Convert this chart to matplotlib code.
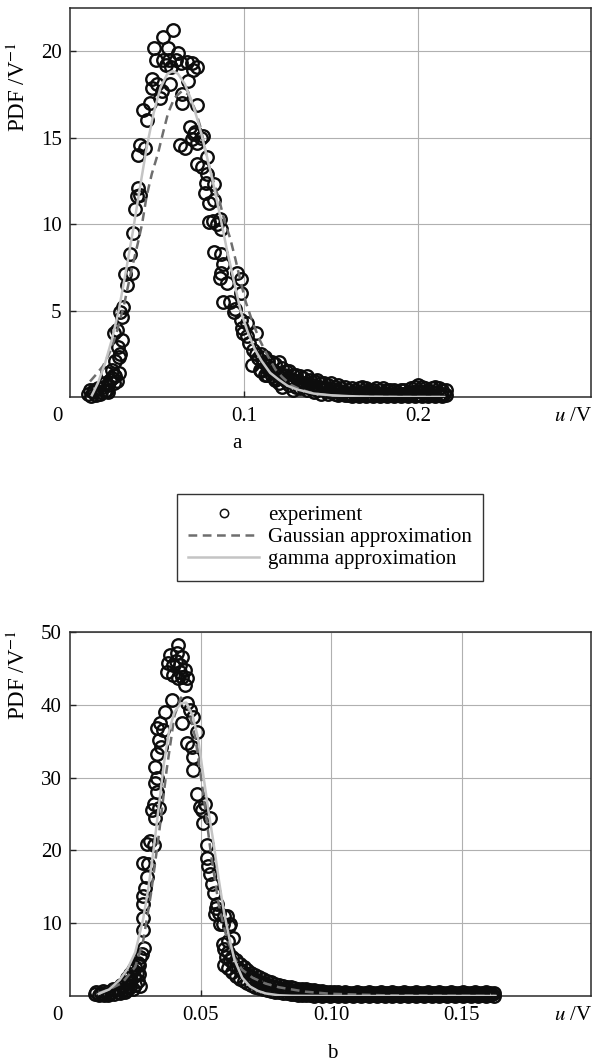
import matplotlib
matplotlib.use("Agg")
import matplotlib.pyplot as plt

plt.rcParams['font.family'] = ['Liberation Serif', 'DejaVu Serif']
plt.rcParams['mathtext.fontset'] = 'stix'
plt.rcParams['font.size'] = 15

# ---- panel a: experiment points ----
a_u = [0.0105, 0.012, 0.013, 0.015, 0.017, 0.019, 0.020, 0.021, 0.022, 0.023, 0.025, 0.024, 0.026, 0.028,
       0.021, 0.024, 0.026, 0.028, 0.0287, 0.0277, 0.030, 0.025, 0.027, 0.029, 0.030, 0.0305, 0.033, 0.0316,
       0.0356, 0.0345, 0.036, 0.0373, 0.0385, 0.040, 0.039, 0.040, 0.039, 0.043, 0.042, 0.044, 0.046, 0.047,
       0.050, 0.047, 0.053, 0.052, 0.0575, 0.0483, 0.0534, 0.0592, 0.0565, 0.0494, 0.0533, 0.0571, 0.061, 0.055,
       0.058, 0.0622, 0.064, 0.067, 0.070, 0.073, 0.0707, 0.068, 0.0644, 0.0644, 0.073, 0.063, 0.066, 0.069,
       0.072, 0.075, 0.070, 0.073, 0.0766, 0.071, 0.0787, 0.073, 0.0758, 0.079, 0.083, 0.078, 0.0776, 0.080,
       0.083, 0.086, 0.0845, 0.087, 0.082, 0.080, 0.083, 0.087, 0.088, 0.087, 0.086, 0.090, 0.088, 0.092,
       0.094, 0.095, 0.096, 0.098, 0.098, 0.098, 0.099, 0.102, 0.0995, 0.1015, 0.107, 0.103, 0.105, 0.107,
       0.1045, 0.108, 0.109, 0.113, 0.117, 0.122, 0.128,
       0.0115, 0.014, 0.016, 0.018, 0.020, 0.022, 0.025, 0.027]
a_v = [0.2, 0.05, 0.3, 0.1, 0.2, 0.6, 0.35, 0.4, 0.7, 1.0, 0.8, 1.1, 1.2, 1.4,
       1.4, 1.56, 2.1, 2.3, 2.5, 2.9, 3.3, 3.7, 3.9, 4.9, 4.6, 5.2, 6.5, 7.1,
       7.2, 8.3, 9.5, 10.9, 11.6, 11.7, 12.1, 14.6, 14.0, 14.4, 16.6, 16.0, 17.0, 18.4,
       18.1, 17.9, 17.7, 17.3, 18.1, 20.2, 20.8, 21.2, 20.2, 19.5, 19.5, 19.5, 19.5, 19.2,
       19.1, 19.9, 19.3, 19.4, 19.3, 19.1, 18.9, 18.3, 17.5, 17.0, 16.9, 14.6, 14.4, 15.6,
       15.3, 15.0, 14.9, 14.7, 15.1, 15.2, 13.9, 13.5, 13.3, 12.9, 12.3, 12.4, 11.8, 11.2,
       11.4, 10.3, 10.0, 9.7, 10.2, 10.1, 8.4, 8.3, 7.7, 7.2, 6.9, 6.6, 5.5, 5.5,
       4.9, 5.1, 7.2, 6.8, 6.0, 4.45, 4.0, 4.3, 3.7, 3.5, 3.7, 3.1, 2.7, 2.5,
       1.85, 2.25, 1.56, 1.27, 1.1, 0.58, 0.4,
       0.4, 0.4, 0.5, 0.3, 0.8, 0.3, 1.3, 0.9]

a_tail_u = [0.110, 0.112, 0.114, 0.116, 0.118, 0.120, 0.122, 0.124, 0.126, 0.128,
            0.130, 0.132, 0.134, 0.136, 0.138, 0.140, 0.142, 0.144, 0.146, 0.148,
            0.150, 0.152, 0.154, 0.156, 0.158, 0.160, 0.162, 0.164, 0.166, 0.168,
            0.170, 0.172, 0.174, 0.176, 0.178, 0.180, 0.182, 0.184, 0.186, 0.188,
            0.190, 0.192, 0.194, 0.196, 0.198, 0.200, 0.202, 0.204, 0.206, 0.208,
            0.210, 0.212, 0.214, 0.216]
a_tail_hi = [2.5, 2.3, 2.1, 2.0, 1.9, 2.0, 1.7, 1.5, 1.5, 1.3,
             1.3, 1.2, 1.1, 1.2, 1.0, 0.9, 1.0, 0.8, 0.8, 0.7,
             0.8, 0.6, 0.7, 0.5, 0.6, 0.4, 0.5, 0.4, 0.5, 0.6,
             0.5, 0.4, 0.4, 0.5, 0.4, 0.5, 0.4, 0.4, 0.4, 0.3,
             0.4, 0.4, 0.3, 0.5, 0.6, 0.7, 0.6, 0.5, 0.4, 0.5,
             0.6, 0.5, 0.4, 0.4]
a_tail_lo = [1.5, 1.3, 1.6, 1.2, 1.0, 0.8, 1.1, 0.9, 0.7, 0.9,
             0.6, 0.5, 0.6, 0.4, 0.5, 0.3, 0.4, 0.2, 0.4, 0.2,
             0.3, 0.2, 0.1, 0.2, 0.1, 0.1, 0.05, 0.1, 0.05, 0.1,
             0.05, 0.1, 0.05, 0.1, 0.05, 0.1, 0.05, 0.1, 0.05, 0.1,
             0.05, 0.1, 0.05, 0.1, 0.05, 0.1, 0.05, 0.1, 0.05, 0.1,
             0.05, 0.1, 0.05, 0.1]
a_tail2_u = [0.111, 0.113, 0.115, 0.117, 0.119, 0.121, 0.123, 0.125, 0.127, 0.129,
             0.131, 0.133, 0.135, 0.137, 0.139, 0.141, 0.143, 0.145, 0.147, 0.149,
             0.151, 0.153, 0.155, 0.157, 0.159, 0.161, 0.163, 0.165, 0.167, 0.169,
             0.171, 0.173, 0.175, 0.177, 0.179, 0.181, 0.183, 0.185, 0.187, 0.189,
             0.191, 0.193, 0.195, 0.197, 0.199, 0.201, 0.203, 0.205, 0.207, 0.209,
             0.211, 0.213, 0.215]
a_tail2_v = [2.0, 1.8, 1.7, 1.5, 1.4, 1.3, 1.3, 1.1, 1.0, 1.0,
             0.9, 0.8, 0.8, 0.7, 0.7, 0.6, 0.6, 0.5, 0.5, 0.4,
             0.45, 0.35, 0.35, 0.3, 0.25, 0.2, 0.25, 0.2, 0.25, 0.3,
             0.2, 0.2, 0.2, 0.25, 0.2, 0.25, 0.2, 0.2, 0.15, 0.15,
             0.2, 0.15, 0.2, 0.25, 0.35, 0.35, 0.3, 0.25, 0.2, 0.25,
             0.3, 0.2, 0.2]

# ---- panel a: approximations ----
a_gam_u = [0.0126, 0.016, 0.020, 0.024, 0.028, 0.032, 0.036, 0.040, 0.044, 0.048, 0.052, 0.056, 0.059,
           0.062, 0.066, 0.070, 0.074, 0.078, 0.082, 0.086, 0.090, 0.094, 0.098, 0.102, 0.106, 0.110,
           0.115, 0.120, 0.125, 0.130, 0.140, 0.150, 0.160, 0.170, 0.180, 0.190, 0.200, 0.215]
a_gam_v = [0.1, 0.8, 1.9, 3.3, 5.0, 7.2, 9.5, 12.0, 14.4, 16.4, 17.9, 18.7, 18.85,
           18.7, 18.1, 17.1, 15.8, 14.2, 12.5, 10.6, 8.6, 6.8, 5.0, 3.8, 2.8, 2.1,
           1.4, 1.0, 0.65, 0.45, 0.2, 0.1, 0.05, 0.02, 0.01, 0.0, 0.0, 0.0]
a_gau_u = [0.0115, 0.015, 0.019, 0.023, 0.027, 0.031, 0.035, 0.039, 0.0414, 0.044, 0.047, 0.0506, 0.0535,
           0.0563, 0.060, 0.0644, 0.068, 0.072, 0.075, 0.0787, 0.082, 0.086, 0.089, 0.092, 0.095, 0.098,
           0.101, 0.105, 0.109, 0.113, 0.118, 0.122, 0.127, 0.132, 0.140, 0.150, 0.160, 0.175, 0.190, 0.205,
           0.215]
a_gau_v = [0.9, 1.3, 1.8, 2.6, 3.8, 5.3, 7.2, 8.9, 10.0, 11.6, 12.9, 14.1, 15.3,
           16.4, 17.3, 17.7, 17.5, 16.6, 15.6, 13.8, 12.6, 11.3, 10.1, 9.2, 8.0, 6.7,
           5.5, 4.3, 3.3, 2.5, 1.6, 1.15, 0.7, 0.45, 0.2, 0.08, 0.03, 0.01, 0.0, 0.0,
           0.0]

# ---- panel b: experiment points ----
b_u = [0.0095, 0.011, 0.012, 0.013, 0.014, 0.015, 0.016, 0.017, 0.018, 0.019, 0.020, 0.021, 0.021, 0.022,
       0.022, 0.023, 0.023, 0.024, 0.024, 0.025, 0.025, 0.026, 0.026, 0.027, 0.0265, 0.0276, 0.027,
       0.0285, 0.028, 0.028, 0.028, 0.028, 0.0288, 0.0295, 0.028, 0.030, 0.0307, 0.0295, 0.032, 0.032,
       0.0315, 0.034, 0.0326, 0.0326, 0.0333, 0.0326, 0.0333, 0.0333, 0.035, 0.034, 0.0357, 0.0333, 0.0345,
       0.0365, 0.039, 0.0414, 0.0384, 0.041, 0.043, 0.0376, 0.0396, 0.042, 0.044, 0.037, 0.0396, 0.043,
       0.045, 0.044, 0.0414, 0.0405, 0.042, 0.0448, 0.046, 0.047, 0.043, 0.0485, 0.045, 0.0467, 0.047,
       0.047, 0.0485, 0.0498, 0.0505, 0.0517, 0.0536, 0.051, 0.0525, 0.0525, 0.053, 0.0536, 0.0544, 0.055,
       0.0563, 0.057, 0.0575, 0.056, 0.0555, 0.059, 0.0587, 0.061, 0.0587, 0.0605, 0.0625, 0.060, 0.0613,
       0.010, 0.0125, 0.0145, 0.0165, 0.0185, 0.0195, 0.0205, 0.0225, 0.0235, 0.0245, 0.0255, 0.0265]
b_v = [0.3, 0.1, 0.4, 0.2, 0.5, 0.3, 0.6, 0.3, 0.9, 0.4, 1.3, 0.6, 1.8, 0.8,
       2.5, 1.2, 3.0, 1.0, 3.6, 1.5, 4.0, 2.0, 4.6, 5.3, 3.0, 5.8, 1.4,
       6.6, 9.0, 10.7, 12.7, 13.8, 14.9, 16.3, 18.3, 18.2, 21.3, 20.9, 20.7, 26.4,
       25.5, 25.8, 24.4, 31.4, 30.0, 29.2, 28.0, 33.3, 34.2, 35.1, 36.5, 36.8, 37.5,
       39.0, 40.6, 48.2, 46.8, 47.1, 46.6, 45.7, 45.5, 45.5, 44.8, 44.5, 44.1, 43.8,
       43.7, 42.7, 43.7, 46.0, 44.5, 40.2, 39.3, 38.3, 37.5, 36.2, 34.7, 34.2, 32.8,
       31.0, 27.8, 25.9, 25.5, 26.4, 24.4, 23.8, 20.7, 19.0, 17.9, 16.8, 15.4, 14.2,
       12.7, 11.4, 9.9, 12.1, 11.3, 11.0, 9.9, 9.6, 7.2, 7.6, 7.9, 11.0, 9.9,
       0.5, 0.7, 0.2, 0.9, 0.6, 1.5, 0.9, 1.8, 2.2, 2.8, 3.2, 4.2]

b_tail_u = [0.0590, 0.0605, 0.0620, 0.0635, 0.0650, 0.0665, 0.0680, 0.0695, 0.0710, 0.0725,
            0.0740, 0.0755, 0.0770, 0.0785, 0.0800, 0.0815, 0.0830, 0.0845, 0.0860, 0.0875,
            0.0890, 0.0905, 0.0920, 0.0935, 0.0950, 0.0965, 0.0980, 0.0995, 0.1010, 0.1025,
            0.1040, 0.1055, 0.1070, 0.1085, 0.1100, 0.1115, 0.1130, 0.1145, 0.1160, 0.1175,
            0.1190, 0.1205, 0.1220, 0.1235, 0.1250, 0.1265, 0.1280, 0.1295, 0.1310, 0.1325,
            0.1340, 0.1355, 0.1370, 0.1385, 0.1400, 0.1415, 0.1430, 0.1445, 0.1460, 0.1475,
            0.1490, 0.1505, 0.1520, 0.1535, 0.1550, 0.1565, 0.1580, 0.1595, 0.1610, 0.1625]
b_tail_hi = [6.5, 6.0, 5.4, 4.9, 4.4, 4.0, 3.6, 3.2, 2.9, 2.6,
             2.4, 2.1, 1.9, 1.7, 1.5, 1.4, 1.3, 1.2, 1.1, 1.0,
             0.9, 0.9, 0.8, 0.8, 0.7, 0.7, 0.6, 0.6, 0.5, 0.5,
             0.4, 0.5, 0.4, 0.4, 0.5, 0.4, 0.4, 0.5, 0.4, 0.4,
             0.5, 0.4, 0.4, 0.5, 0.4, 0.4, 0.5, 0.4, 0.4, 0.5,
             0.4, 0.4, 0.5, 0.4, 0.4, 0.5, 0.4, 0.4, 0.5, 0.4,
             0.4, 0.5, 0.4, 0.4, 0.5, 0.4, 0.4, 0.5, 0.4, 0.4]
b_tail_lo = [4.2, 3.8, 3.3, 2.8, 2.4, 2.0, 1.8, 1.5, 1.3, 1.1,
             1.0, 0.8, 0.7, 0.6, 0.5, 0.4, 0.4, 0.3, 0.3, 0.2,
             0.1, 0.2, 0.1, 0.0, 0.1, 0.0, 0.1, 0.0, 0.1, 0.0,
             0.1, 0.0, 0.1, 0.0, 0.1, 0.0, 0.1, 0.0, 0.1, 0.0,
             0.1, 0.0, 0.1, 0.0, 0.1, 0.0, 0.1, 0.0, 0.1, 0.0,
             0.1, 0.0, 0.1, 0.0, 0.1, 0.0, 0.1, 0.0, 0.1, 0.0,
             0.1, 0.0, 0.1, 0.0, 0.1, 0.0, 0.1, 0.0, 0.1, 0.0]
b_tail2_u = [0.0598, 0.0613, 0.0628, 0.0643, 0.0658, 0.0673, 0.0688, 0.0703, 0.0718, 0.0733,
             0.0748, 0.0763, 0.0778, 0.0793, 0.0808, 0.0823, 0.0838, 0.0853, 0.0868, 0.0883,
             0.0898, 0.0913, 0.0928, 0.0943, 0.0958, 0.0973, 0.0988, 0.1003, 0.1018, 0.1033,
             0.1048, 0.1063, 0.1078, 0.1093, 0.1108, 0.1123, 0.1138, 0.1153, 0.1168, 0.1183,
             0.1198, 0.1213, 0.1228, 0.1243, 0.1258, 0.1273, 0.1288, 0.1303, 0.1318, 0.1333,
             0.1348, 0.1363, 0.1378, 0.1393, 0.1408, 0.1423, 0.1438, 0.1453, 0.1468, 0.1483,
             0.1498, 0.1513, 0.1528, 0.1543, 0.1558, 0.1573, 0.1588, 0.1603, 0.1618]
b_tail2_v = [5.3, 4.9, 4.3, 3.8, 3.4, 3.0, 2.7, 2.3, 2.1, 1.8,
             1.7, 1.4, 1.3, 1.1, 1.0, 0.9, 0.8, 0.7, 0.7, 0.6,
             0.5, 0.5, 0.4, 0.4, 0.4, 0.3, 0.3, 0.3, 0.3, 0.2,
             0.25, 0.2, 0.3, 0.2, 0.25, 0.2, 0.3, 0.2, 0.25, 0.2,
             0.3, 0.2, 0.25, 0.2, 0.3, 0.2, 0.25, 0.2, 0.3, 0.2,
             0.25, 0.2, 0.3, 0.2, 0.25, 0.2, 0.3, 0.2, 0.25, 0.2,
             0.3, 0.2, 0.25, 0.2, 0.3, 0.2, 0.25, 0.2, 0.3]

# ---- panel b: approximations ----
b_gam_u = [0.011, 0.015, 0.019, 0.022, 0.025, 0.028, 0.030, 0.032, 0.034, 0.036, 0.038, 0.040, 0.0425,
           0.0445, 0.047, 0.049, 0.051, 0.053, 0.055, 0.057, 0.059, 0.061, 0.063, 0.066, 0.069, 0.072,
           0.075, 0.080, 0.085, 0.100, 0.130, 0.163]
b_gam_v = [0.3, 0.9, 2.2, 3.7, 6.0, 10.5, 14.8, 20.0, 26.0, 32.0, 36.5, 39.0, 40.2,
           40.3, 38.5, 35.5, 30.5, 25.5, 21.0, 16.0, 11.5, 8.0, 5.0, 2.5, 1.3, 0.7,
           0.35, 0.1, 0.03, 0.0, 0.0, 0.0]
b_gau_u = [0.011, 0.015, 0.020, 0.025, 0.028, 0.031, 0.034, 0.037, 0.040, 0.0425, 0.045, 0.048, 0.051,
           0.054, 0.057, 0.060, 0.063, 0.066, 0.070, 0.075, 0.080, 0.090, 0.100, 0.120, 0.163]
b_gau_v = [0.4, 0.9, 1.8, 4.0, 7.5, 14.0, 22.0, 31.0, 38.5, 41.0, 40.0, 35.5, 28.0,
           19.5, 12.5, 8.0, 5.2, 3.6, 2.5, 1.7, 1.2, 0.6, 0.3, 0.1, 0.0]

a_yticks = [5, 10, 15, 20]
a_xticks = [0.1, 0.2]
a_xlabels = ['0.1', '0.2']
b_yticks = [10, 20, 30, 40, 50]
b_xticks = [0.05, 0.10, 0.15]
b_xlabels = ['0.05', '0.10', '0.15']

fig = plt.figure(figsize=(5.92, 10.62), dpi=100)
ax1 = fig.add_axes([70 / 592, 665 / 1062, 521 / 592, 389 / 1062])
ax2 = fig.add_axes([70 / 592, 66 / 1062, 521 / 592, 364 / 1062])

mk = dict(ls='none', marker='o', ms=9, mfc='none', mec='#0d0d0d', mew=1.7, clip_on=False, zorder=3)
gam_style = dict(color='#c4c4c4', lw=1.8, zorder=5)
gau_style = dict(color='#6e6e6e', lw=1.8, ls=(0, (3.5, 2.2)), zorder=4)


def style_axes(ax, xmax, ymax, xticks, xlabels, yticks):
    ax.set_xlim(0, xmax)
    ax.set_ylim(0, ymax)
    ax.set_xticks(xticks)
    ax.set_xticklabels(xlabels)
    ax.set_yticks(yticks)
    ax.grid(True, color='#b0b0b0', lw=0.8)
    ax.set_axisbelow(True)
    ax.tick_params(direction='in', length=4, width=1, color='#222222', pad=6, labelsize=15)
    ax.tick_params(axis='x', pad=7)
    for s in ax.spines.values():
        s.set_linewidth(1.1)
        s.set_color('#2a2a2a')
    ax.annotate('0', xy=(0, 0), xycoords='axes fraction', xytext=(-9, -7), textcoords='offset points',
                ha='center', va='top', fontsize=15)
    ax.annotate('$u$ /V', xy=(1, 0), xycoords='axes fraction', xytext=(1, -7), textcoords='offset points',
                ha='right', va='top', fontsize=15)


ax1.plot(a_u, a_v, **mk)
ax1.plot(a_tail_u, a_tail_hi, **mk)
ax1.plot(a_tail_u, a_tail_lo, **mk)
ax1.plot(a_tail2_u, a_tail2_v, **mk)
ax1.plot(a_gau_u, a_gau_v, **gau_style)
ax1.plot(a_gam_u, a_gam_v, **gam_style)
style_axes(ax1, 0.2994, 22.5, a_xticks, a_xlabels, a_yticks)

ax2.plot(b_u, b_v, **mk)
ax2.plot(b_tail_u, b_tail_hi, **mk)
ax2.plot(b_tail_u, b_tail_lo, **mk)
ax2.plot(b_tail2_u, b_tail2_v, **mk)
ax2.plot(b_gau_u, b_gau_v, **gau_style)
ax2.plot(b_gam_u, b_gam_v, **gam_style)
style_axes(ax2, 0.1996, 50, b_xticks, b_xlabels, b_yticks)

fig.text(18 / 592, 1 - 87 / 1062, 'PDF /V$^{-1}$', rotation=90, ha='center', va='center', fontsize=16.5)
fig.text(18 / 592, 1 - 675 / 1062, 'PDF /V$^{-1}$', rotation=90, ha='center', va='center', fontsize=16.5)
fig.text(237 / 592, 1 - 443 / 1062, 'a', ha='center', va='center', fontsize=15)
fig.text(332 / 592, 1 - 1053 / 1062, 'b', ha='center', va='center', fontsize=15)

h_exp, = ax1.plot([], [], ls='none', marker='o', ms=6, mfc='none', mec='#111111', mew=1.1)
h_gau, = ax1.plot([], [], **gau_style)
h_gam, = ax1.plot([], [], **gam_style)
leg = fig.legend([h_exp, h_gau, h_gam], ['experiment', 'Gaussian approximation', 'gamma approximation'],
                 loc='center', bbox_to_anchor=(330 / 592, 1 - 537.5 / 1062), fontsize=15, frameon=True,
                 fancybox=False, edgecolor='#333333', framealpha=1, handlelength=3.4, handletextpad=0.4,
                 labelspacing=0.12, borderpad=0.55, borderaxespad=0, numpoints=1)
leg.get_frame().set_linewidth(1.0)

fig.savefig('out.png', dpi=100)
